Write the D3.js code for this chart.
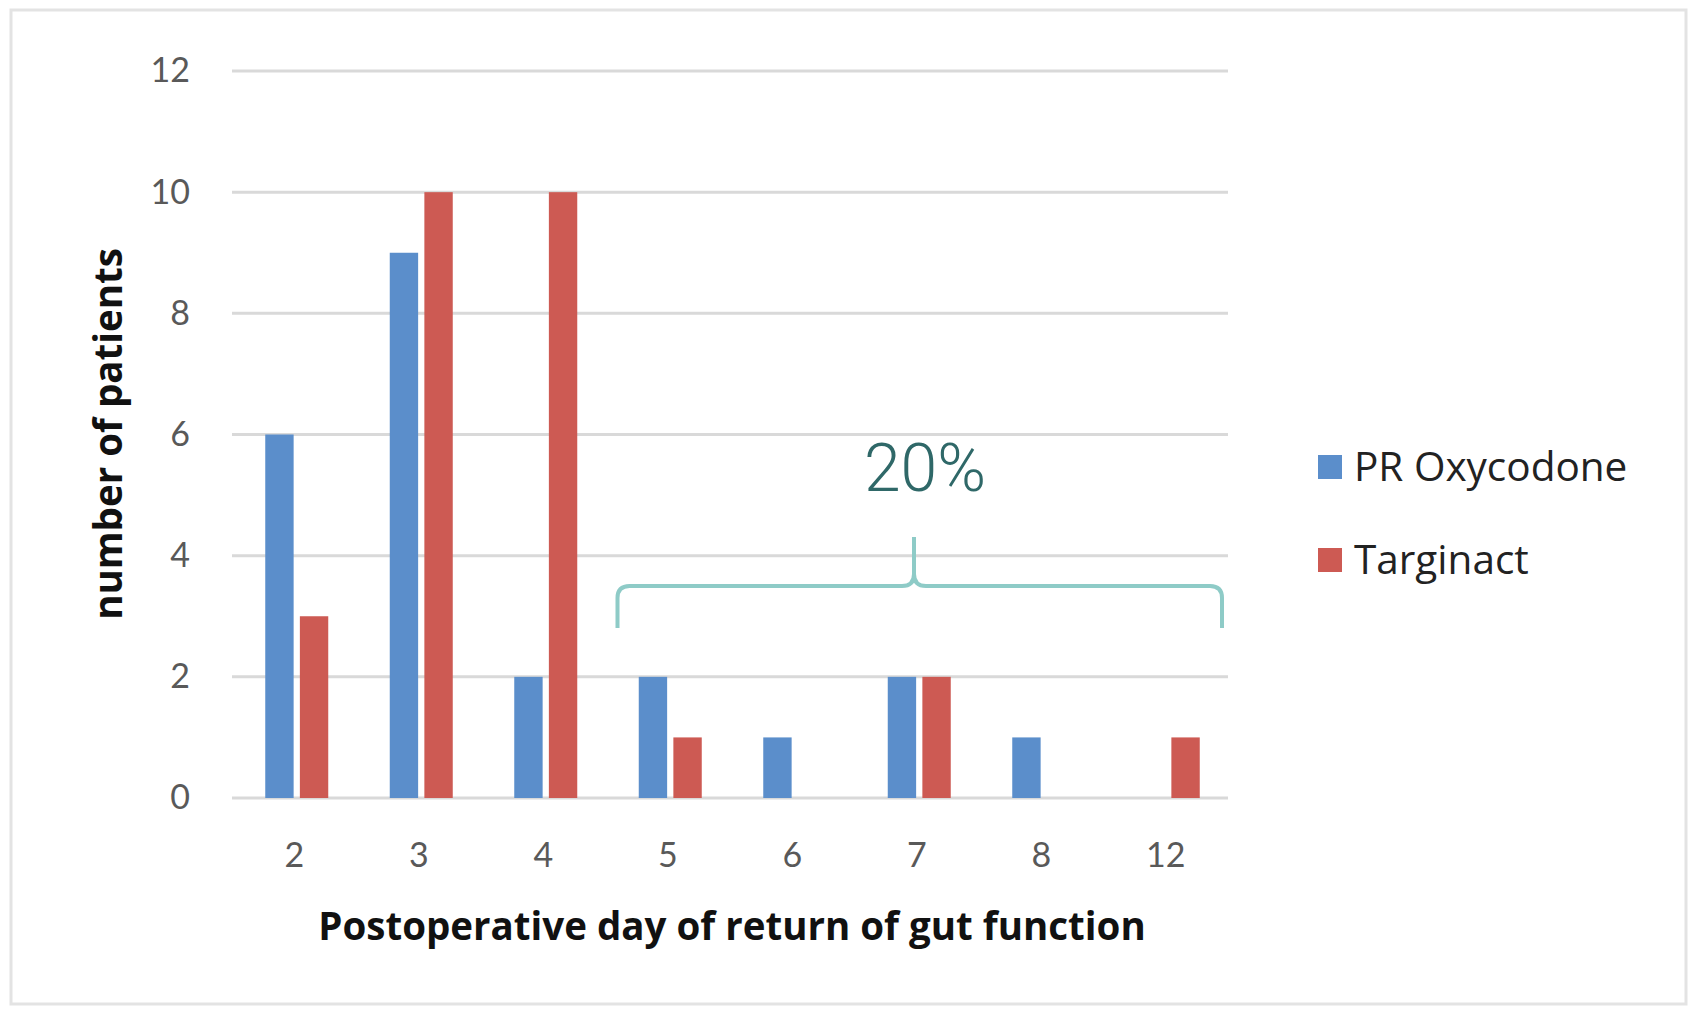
<!DOCTYPE html>
<html>
<head>
<meta charset="utf-8">
<script src="https://cdn.jsdelivr.net/npm/d3@7"></script>
<style>
  body { margin: 0; background: #fff; }
  svg { display: block; }
</style>
</head>
<body>
<svg id="chart"></svg>
<script>
// Data
const days = ["2", "3", "4", "5", "6", "7", "8", "12"];
const seriesNames = ["PR Oxycodone", "Targinact"];
const oxycodone = [6, 9, 2, 2, 1, 2, 1, 0];
const targinact = [3, 10, 10, 1, 0, 2, 0, 1];
const yTicks = [0, 2, 4, 6, 8, 10, 12];
const bracketDays = ["5", "12"]; // the "20%" brace spans these categories
const bracketLabel = "20%";

const colors = { "PR Oxycodone": "#5b8ecb", "Targinact": "#cd5a53" };
const tickFont = "Lato, 'Open Sans', sans-serif";
const textFont = "'Open Sans', Lato, sans-serif";

const width = 1692, height = 1011;
const svg = d3.select("#chart").attr("width", width).attr("height", height);

// Outer frame
svg.append("rect")
  .attr("x", 11).attr("y", 10)
  .attr("width", 1675).attr("height", 994)
  .attr("fill", "#fff")
  .attr("stroke", "#e3e3e3")
  .attr("stroke-width", 3);

const plot = { left: 232, right: 1228, top: 71, bottom: 798 };

const x = d3.scaleBand().domain(days).range([plot.left, plot.right]);
const x1 = d3.scaleBand().domain(seriesNames).range([-29, 34]).paddingInner(0.18);
const y = d3.scaleLinear().domain([0, 12]).range([plot.bottom, plot.top]);

//Gridlines
svg.append("g")
  .selectAll("line")
  .data(yTicks)
  .join("line")
  .attr("x1", plot.left).attr("x2", plot.right)
  .attr("y1", d => y(d)).attr("y2", d => y(d))
  .attr("stroke", "#d9d9d9")
  .attr("stroke-width", 3);

//Y axis labels
const yAxis = svg.append("g")
  .attr("transform", `translate(${plot.left}, 0)`)
  .call(d3.axisLeft(y).tickValues(yTicks).tickSize(0).tickPadding(42));
yAxis.select(".domain").remove();
yAxis.selectAll("text")
  .attr("fill", "#595959")
  .style("font-family", tickFont)
  .style("font-size", "34px");

//X axis labels
const xAxis = svg.append("g")
  .attr("transform", `translate(0, ${plot.bottom})`)
  .call(d3.axisBottom(x).tickSize(0).tickPadding(45));
xAxis.select(".domain").remove();
xAxis.selectAll("text")
  .attr("fill", "#595959")
  .style("font-family", tickFont)
  .style("font-size", "34px");

//Bars
const rows = days.map((day, i) => ({ day, values: [oxycodone[i], targinact[i]] }));
svg.append("g")
  .selectAll("g")
  .data(rows)
  .join("g")
  .attr("transform", d => `translate(${x(d.day) + x.bandwidth() / 2}, 0)`)
  .selectAll("rect")
  .data(d => d.values.map((v, j) => ({ name: seriesNames[j], value: v })).filter(d => d.value > 0))
  .join("rect")
  .attr("x", d => x1(d.name))
  .attr("width", x1.bandwidth())
  .attr("y", d => y(d.value))
  .attr("height", d => y(0) - y(d.value))
  .attr("fill", d => colors[d.name]);

//Axis titles
svg.append("text")
  .attr("transform", `translate(122, 434) rotate(-90)`)
  .attr("text-anchor", "middle")
  .attr("fill", "#111")
  .style("font-family", textFont)
  .style("font-weight", "bold")
  .style("font-size", "38.5px")
  .text("number of patients");

svg.append("text")
  .attr("x", 732).attr("y", 940)
  .attr("text-anchor", "middle")
  .attr("fill", "#111")
  .style("font-family", textFont)
  .style("font-weight", "bold")
  .style("font-size", "38.5px")
  .text("Postoperative day of return of gut function");

//Legend
const legend = svg.append("g")
  .selectAll("g")
  .data(seriesNames)
  .join("g")
  .attr("transform", (d, i) => `translate(1318, ${467 + i * 93})`);
legend.append("rect")
  .attr("y", -12).attr("width", 24).attr("height", 24)
  .attr("fill", d => colors[d]);
legend.append("text")
  .attr("x", 36).attr("dy", "0.35em")
  .attr("fill", "#222")
  .style("font-family", textFont)
  .style("font-size", "40.5px")
  .text(d => d);

//Brace annotation
const bx0 = x(bracketDays[0]) - 3 + 15;
const bx1 = x(bracketDays[1]) + x.bandwidth() - 6;
const bmid = 914;
const by = 586, r = 12;
svg.append("path")
  .attr("d", `M${bx0},628 L${bx0},${by + r} Q${bx0},${by} ${bx0 + r},${by}
    L${bmid - r},${by} Q${bmid},${by} ${bmid},${by - r} L${bmid},537
    M${bmid},${by - r} Q${bmid},${by} ${bmid + r},${by}
    L${bx1 - r},${by} Q${bx1},${by} ${bx1},${by + r} L${bx1},628`)
  .attr("fill", "none")
  .attr("stroke", "#8ecbc7")
  .attr("stroke-width", 4);

svg.append("text")
  .attr("x", 925).attr("y", 491)
  .attr("text-anchor", "middle")
  .attr("fill", "#2f6868")
  .style("font-family", "Roboto, 'Open Sans', sans-serif")
  .style("font-weight", "300")
  .style("font-size", "66px")
  .text(bracketLabel);
</script>
</body>
</html>
